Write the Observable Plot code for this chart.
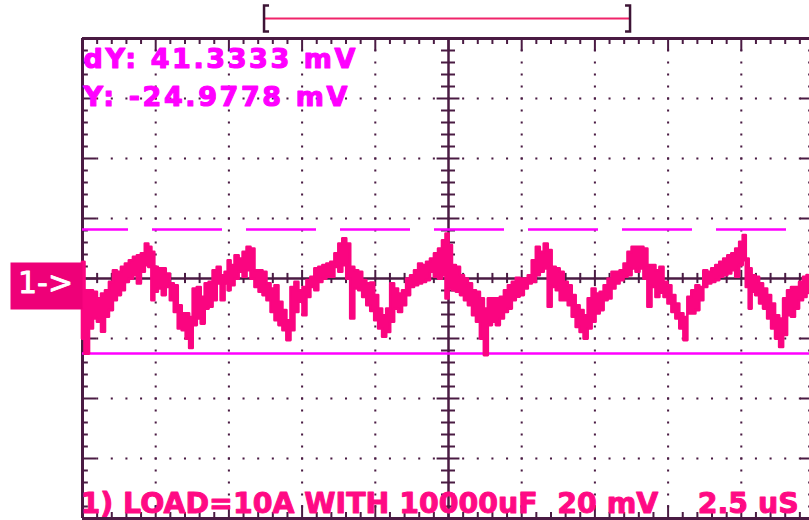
<!DOCTYPE html>
<html><head><meta charset="utf-8">
<script src="https://cdn.jsdelivr.net/npm/d3@7"></script>
<script src="https://cdn.jsdelivr.net/npm/@observablehq/plot@0.6"></script>
<style>
html,body{margin:0;padding:0;background:#fff;overflow:hidden;width:809px;height:520px;}
#chart svg{display:block;}
</style></head><body><div id="chart"></div>
<script>
// ---- data ----
const timeUs = [0.00,0.17,0.31,0.44,0.58,0.72,0.85,0.99,1.12,1.26,1.40,1.53,1.67,1.81,1.94,2.08,2.21,2.32,2.42,2.52,2.66,2.79,2.93,3.07,3.20,3.34,3.47,3.61,3.71,3.85,3.99,4.12,4.26,4.39,4.53,4.67,4.80,4.94,5.01,5.14,5.28,5.42,5.55,5.69,5.82,5.96,6.10,6.23,6.37,6.51,6.64,6.78,6.91,7.05,7.19,7.32,7.46,7.60,7.73,7.87,8.00,8.14,8.28,8.41,8.55,8.69,8.82,8.96,9.09,9.23,9.37,9.50,9.64,9.78,9.91,10.05,10.18,10.32,10.46,10.59,10.73,10.86,11.00,11.14,11.27,11.41,11.55,11.68,11.82,11.95,12.09,12.23,12.36,12.47,12.57,12.70,12.84,12.98,13.11,13.25,13.39,13.52,13.66,13.79,13.93,14.07,14.20,14.34,14.48,14.61,14.75,14.88,15.02,15.16,15.29,15.43,15.57,15.70,15.84,15.97,16.11,16.25,16.38,16.52,16.66,16.79,16.93,17.06,17.20,17.34,17.47,17.61,17.75,17.88,18.02,18.15,18.29,18.43,18.56,18.70,18.84,18.97,19.11,19.24,19.38,19.52,19.65,19.79,19.93,20.06,20.20,20.33,20.47,20.61,20.74,20.88,21.02,21.15,21.29,21.42,21.56,21.70,21.83,21.97,22.11,22.24,22.38,22.51,22.62,22.72,22.82,22.92,23.06,23.19,23.33,23.47,23.60,23.74,23.88,24.01,24.15,24.28,24.42,24.56,24.69,24.80];
const traceHi = [5.4,-4.1,-4.1,-4.6,-6.8,-5.2,-4.1,-1.3,2.6,2.1,3.7,4.8,5.9,7.1,7.6,8.2,11.5,10.4,8.7,3.7,3.2,3.2,1.5,-1.8,-2.4,-9.1,-11.8,-11.8,-13.0,-3.5,-3.0,-6.3,-1.8,-1.3,2.6,3.7,0.9,2.1,5.9,4.3,7.6,6.5,8.7,10.4,9.8,2.6,2.6,2.1,-1.8,-3.5,-2.4,-7.9,-10.7,-14.1,-3.0,-1.3,-4.1,-3.0,-0.7,0.4,3.2,3.7,4.3,4.8,5.4,8.2,11.5,13.2,11.5,3.7,2.6,2.1,-0.7,-1.8,-1.5,-5.7,-10.2,-12.4,-10.2,-1.8,-3.5,-5.2,-4.1,-0.2,0.9,2.6,4.8,4.3,5.4,6.5,8.2,9.8,12.6,14.8,11.0,4.3,3.7,0.9,-0.2,-1.8,-4.1,-4.6,-6.8,-10.2,-6.8,-6.8,-6.8,-6.3,-4.1,-2.4,-1.3,0.1,-0.2,-0.2,0.9,5.9,10.4,8.7,11.5,9.3,3.7,3.2,2.1,-1.3,-2.4,-5.7,-9.1,-10.7,-12.4,-6.8,-3.5,-5.2,-4.6,-2.4,-0.2,2.1,2.1,2.6,4.8,8.7,10.4,10.4,10.4,9.8,4.3,4.3,2.6,3.7,-1.3,-2.4,-5.7,-8.5,-11.8,-13.0,-6.3,-4.1,-2.4,-3.0,2.6,2.1,3.2,4.3,5.4,6.5,7.6,8.2,9.8,12.1,14.3,6.5,3.2,0.9,0.4,-1.8,-3.5,-5.7,-8.5,-12.4,-13.5,-6.8,-4.1,-3.0,-3.0,-1.3,0.4,1.0];
const traceLo = [-20.2,-25.2,-16.8,-13.5,-14.6,-17.9,-12.9,-10.7,-7.4,-5.7,-4.1,-1.3,-0.2,0.9,-1.8,2.1,4.3,3.7,-7.4,-4.6,-3.5,-5.7,-3.0,-7.4,-11.3,-16.8,-17.4,-20.2,-23.3,-15.7,-13.5,-15.2,-10.2,-9.6,-7.4,-1.8,-7.4,-1.8,-4.1,-2.4,-0.2,2.1,0.4,2.6,-0.2,-3.0,-4.6,-5.7,-7.4,-11.3,-14.1,-15.7,-17.4,-20.7,-17.4,-11.3,-7.9,-12.4,-6.3,-3.0,-4.1,-1.3,-0.2,0.4,0.4,3.7,2.1,4.3,-0.2,-13.5,-3.5,-4.1,-6.3,-9.1,-11.0,-14.1,-16.8,-19.6,-18.0,-14.6,-10.2,-11.3,-9.1,-5.7,-3.0,-2.4,-1.8,-1.3,-0.7,2.1,0.4,-0.2,0.9,-6.8,-3.5,-4.1,-4.6,-5.7,-7.4,-9.1,-12.4,-14.6,-20.2,-25.7,-15.7,-14.6,-15.7,-13.5,-11.3,-10.2,-7.4,-6.2,-5.7,-3.5,-1.8,-1.3,0.9,2.1,3.2,-9.6,-3.0,-4.1,-7.4,-7.4,-9.1,-12.9,-16.3,-18.0,-20.2,-16.8,-14.6,-11.8,-10.7,-7.4,-6.8,-3.5,-1.8,-0.7,0.4,0.9,3.2,2.1,3.2,-0.2,-9.6,-3.0,-6.3,-4.9,-6.3,-8.5,-11.3,-13.5,-16.8,-20.7,-11.8,-11.8,-10.7,-7.4,-3.0,-1.8,-1.3,-0.7,0.4,0.9,1.5,2.6,0.4,4.3,5.9,-3.0,-10.2,-4.6,-5.7,-8.5,-10.2,-13.5,-16.8,-20.2,-23.0,-19.0,-12.4,-12.9,-10.2,-7.4,-6.3,-5.0];

const cursorY = -24.9778;      // mV
const cursorDY = 41.3333;      // mV
const voltsPerDiv = 20;        // mV/div
const usPerDiv = 2.5;          // us/div
const channelLabel = "1->";
const captionText = "1) LOAD=10A WITH 10000uF";
const windowStart = 6.2;       // us
const windowEnd = 18.7;        // us

// ---- build ----
const trace = timeUs.map((t, i) => ({t, hi: traceHi[i], lo: traceLo[i]}));
const xMax = 10 * usPerDiv, yMax = 4 * voltsPerDiv;
const xMinor = d3.range(0, xMax + 1e-9, usPerDiv / 5);
const yMinor = d3.range(-yMax, yMax + 1e-9, voltsPerDiv / 5);
const xMajor = d3.range(0, xMax + 1e-9, usPerDiv);
const yMajor = d3.range(-yMax, yMax + 1e-9, voltsPerDiv);
const isMajX = t => Math.abs(t / usPerDiv - Math.round(t / usPerDiv)) < 1e-6;
const isMajY = v => Math.abs(v / voltsPerDiv - Math.round(v / voltsPerDiv)) < 1e-6;
const xc = xMax / 2;

const hDots = yMajor.filter(v => v !== 0 && Math.abs(v) !== yMax).flatMap(v => xMinor.map(t => ({t, v})));
const vDots = xMajor.filter(t => t !== 0 && t !== xc && t !== xMax).flatMap(t => yMinor.map(v => ({t, v})));

const GRID = "#4a1b43";
const TRACE = "#fa0580";
const CURSOR = "#ff00ff";
const CAPTION = "#ff0a84";

const leftBracket = {draw(c) { c.moveTo(5, -13); c.lineTo(0, -13); c.lineTo(0, 13); c.lineTo(5, 13); }};
const rightBracket = {draw(c) { c.moveTo(-5, -13); c.lineTo(0, -13); c.lineTo(0, 13); c.lineTo(-5, 13); }};
const channelBox = {draw(c) { c.rect(-72, -16, 72, 47); }};

const chart = Plot.plot({
  width: 809, height: 520,
  marginLeft: 82, marginTop: 38, marginBottom: 2, marginRight: 0,
  x: {domain: [0, xMax], range: [82, 814], axis: null},
  y: {domain: [-yMax, yMax], range: [518, 38], axis: null},
  marks: [
    // dotted graticule
    Plot.dot([...hDots, ...vDots], {x: "t", y: "v", r: 1.15, symbol: "square", fill: GRID, stroke: "none"}),
    // frame
    Plot.ruleY([-yMax, yMax], {x1: 0, x2: xMax, stroke: GRID, strokeWidth: 3}),
    Plot.ruleX([0, xMax], {y1: -yMax, y2: yMax, stroke: GRID, strokeWidth: 3}),
    // centre axes
    Plot.ruleY([0], {x1: 0, x2: xMax, stroke: GRID, strokeWidth: 2.5}),
    Plot.ruleX([xc], {y1: -yMax, y2: yMax, stroke: GRID, strokeWidth: 2.5}),
    // border ticks
    Plot.ruleX(xMinor, {x: d => d, y1: yMax, y2: d => yMax - (isMajX(d) ? 4.3 : 2), stroke: GRID, strokeWidth: 2}),
    Plot.ruleX(xMinor, {x: d => d, y1: -yMax, y2: d => -yMax + (isMajX(d) ? 4.3 : 2), stroke: GRID, strokeWidth: 2}),
    Plot.ruleY(yMinor, {y: d => d, x1: 0, x2: d => (isMajY(d) ? 0.48 : 0.2), stroke: GRID, strokeWidth: 2}),
    Plot.ruleY(yMinor, {y: d => d, x1: xMax, x2: d => xMax - (isMajY(d) ? 0.48 : 0.2), stroke: GRID, strokeWidth: 2}),
    // centre axis ticks
    Plot.ruleX(xMinor, {x: d => d, y1: d => -(isMajX(d) ? 2.7 : 1.7), y2: d => (isMajX(d) ? 2.7 : 1.7), stroke: GRID, strokeWidth: 2}),
    Plot.ruleY(yMinor, {y: d => d, x1: d => xc - (isMajY(d) ? 0.39 : 0.24), x2: d => xc + (isMajY(d) ? 0.39 : 0.24), stroke: GRID, strokeWidth: 2}),
    // cursors
    Plot.ruleY([cursorY], {x1: 0, x2: xMax, stroke: CURSOR, strokeWidth: 2.5}),
    Plot.ruleY([cursorY + cursorDY], {x1: 0, x2: xMax, stroke: CURSOR, strokeWidth: 2.5, strokeDasharray: "70 24", strokeDashoffset: 24}),
    // waveform
    Plot.areaY(trace, {x: "t", y1: "lo", y2: "hi", curve: "step", fill: TRACE, stroke: TRACE, strokeWidth: 2.6}),
    // acquisition window bracket
    Plot.ruleY([yMax], {x1: windowStart, x2: windowEnd, dy: -20, stroke: "#f0246a", strokeWidth: 2}),
    Plot.dot([windowStart], {x: d => d, y: yMax, dy: -20, symbol: leftBracket, fill: "none", stroke: "#3d1435", strokeWidth: 2.5}),
    Plot.dot([windowEnd], {x: d => d, y: yMax, dy: -20, symbol: rightBracket, fill: "none", stroke: "#3d1435", strokeWidth: 2.5}),
    // channel marker
    Plot.dot([{t: 0, v: 0}], {x: "t", y: "v", symbol: channelBox, fill: "#ee0078", stroke: "none"}),
    Plot.text([{t: 0, v: 0, label: channelLabel}], {x: "t", y: "v", text: "label", dx: -37, dy: 14, lineAnchor: "bottom", textAnchor: "middle", fill: "white", stroke: "white", strokeWidth: 0.8, fontSize: 30, fontFamily: "DejaVu Sans"}),
    // cursor readouts
    Plot.text([`dY: ${cursorDY} mV`], {frameAnchor: "top-left", dx: 1, dy: 29, lineAnchor: "bottom", textAnchor: "start", fill: CURSOR, stroke: CURSOR, strokeWidth: 1.2, fontSize: 27, fontWeight: "bold", fontFamily: "DejaVu Sans"}),
    Plot.text([`Y: ${cursorY} mV`], {frameAnchor: "top-left", dx: 1, dy: 67, lineAnchor: "bottom", textAnchor: "start", fill: CURSOR, stroke: CURSOR, strokeWidth: 1.2, fontSize: 27, fontWeight: "bold", fontFamily: "DejaVu Sans"}),
    // caption
    Plot.text([`${captionText}\u00a0\u00a0${voltsPerDiv} mV\u00a0\u00a0\u00a0\u00a0${usPerDiv} uS`], {frameAnchor: "bottom-left", dx: -2, dy: -6, lineAnchor: "bottom", textAnchor: "start", fill: CAPTION, stroke: CAPTION, strokeWidth: 1, fontSize: 28.4, fontWeight: "bold", fontFamily: "DejaVu Sans"})
  ]
});
document.getElementById("chart").appendChild(chart);
d3.select(chart).selectAll("text").filter(function () { return /Y: /.test(this.textContent); }).style("letter-spacing", "2.6px");
</script></body></html>
